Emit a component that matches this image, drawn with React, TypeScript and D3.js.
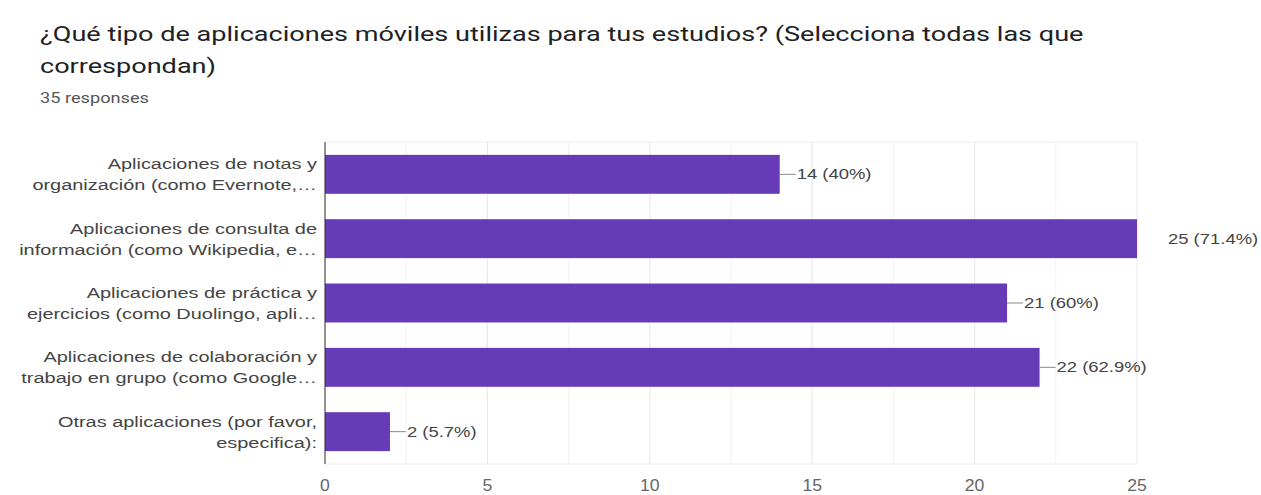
import React from "react";
import * as d3 from "d3";

const title1 = "¿Qué tipo de aplicaciones móviles utilizas para tus estudios? (Selecciona todas las que";
const title2 = "correspondan)";
const subtitle = "35 responses";

const categoryLines: string[][] = [
  ["Aplicaciones de notas y", "organización (como Evernote,…"],
  ["Aplicaciones de consulta de", "información (como Wikipedia, e…"],
  ["Aplicaciones de práctica y", "ejercicios (como Duolingo, apli…"],
  ["Aplicaciones de colaboración y", "trabajo en grupo (como Google…"],
  ["Otras aplicaciones (por favor,", "especifica):"],
];
const counts = [14, 25, 21, 22, 2];
const valueLabels = ["14 (40%)", "25 (71.4%)", "21 (60%)", "22 (62.9%)", "2 (5.7%)"];
const xTicks = [0, 5, 10, 15, 20, 25];
const xMax = 25;

const FONT = "Liberation Sans, Arial";

function SText(props: { x: number; y: number; sx: number; anchor?: string; size: number; fill: string; family: string; children: string }) {
  return (
    <text
      transform={`translate(${props.x},${props.y}) scale(${props.sx},1)`}
      textAnchor={props.anchor || "start"}
      fontFamily={props.family}
      fontSize={props.size}
      fill={props.fill}
    >
      {props.children}
    </text>
  );
}

export default function App() {
  const W = 1261, H = 495;
  const left = 325, right = 1137, top = 142, bottom = 464;
  const x = d3.scaleLinear().domain([0, xMax]).range([left, right]);
  const y = d3.scaleBand<number>().domain(d3.range(counts.length)).range([top, bottom]).paddingInner(0.395).paddingOuter(0.2);
  const minor = d3.range(0, xMax + 0.01, 2.5);
  return (
    <svg width={W} height={H} style={{ position: "absolute", left: 0, top: 0, background: "#fff" }}>
      <rect x={0} y={0} width={W} height={H} fill="#fff" />
      <SText x={40} y={41} sx={1.29} size={21} fill="#202124" family="Roboto">{title1}</SText>
      <SText x={40} y={73} sx={1.29} size={21} fill="#202124" family="Roboto">{title2}</SText>
      <SText x={40} y={103} sx={1.3} size={14} fill="#555" family="Roboto">{subtitle}</SText>
      {minor.map((v) => (
        <line key={v} x1={x(v)} x2={x(v)} y1={top} y2={bottom} stroke={v % 5 === 0 ? "#e6e6e6" : "#f2f2f2"} strokeWidth={1} />
      ))}
      <line x1={left} x2={right} y1={top} y2={top} stroke="#eeeeee" />
      <line x1={left} x2={right} y1={bottom} y2={bottom} stroke="#eeeeee" />
      {counts.map((c, i) => {
        const by = y(i)!;
        const bh = y.bandwidth();
        const cy = by + bh / 2;
        const xe = x(c);
        const outside = xe >= right - 1;
        return (
          <g key={i}>
            <rect x={left} y={by} width={xe - left} height={bh} fill="#673ab7" />
            {!outside && <line x1={xe} x2={xe + 16} y1={cy} y2={cy} stroke="#888" strokeWidth={1} />}
            <SText x={outside ? xe + 31 : xe + 17} y={cy + 5} sx={1.23} size={15} fill="#444" family={FONT}>{valueLabels[i]}</SText>
            {categoryLines[i].map((t, j) => (
              <SText key={j} x={left - 8} y={cy + (j === 0 ? -5 : 16)} sx={1.33} anchor="end" size={15} fill="#444" family={FONT}>{t}</SText>
            ))}
          </g>
        );
      })}
      <line x1={left} x2={left} y1={top} y2={bottom} stroke="#333" strokeWidth={1} />
      {xTicks.map((t) => (
        <SText key={t} x={x(t)} y={491} sx={1.1} anchor="middle" size={16} fill="#666" family={FONT}>{String(t)}</SText>
      ))}
    </svg>
  );
}
